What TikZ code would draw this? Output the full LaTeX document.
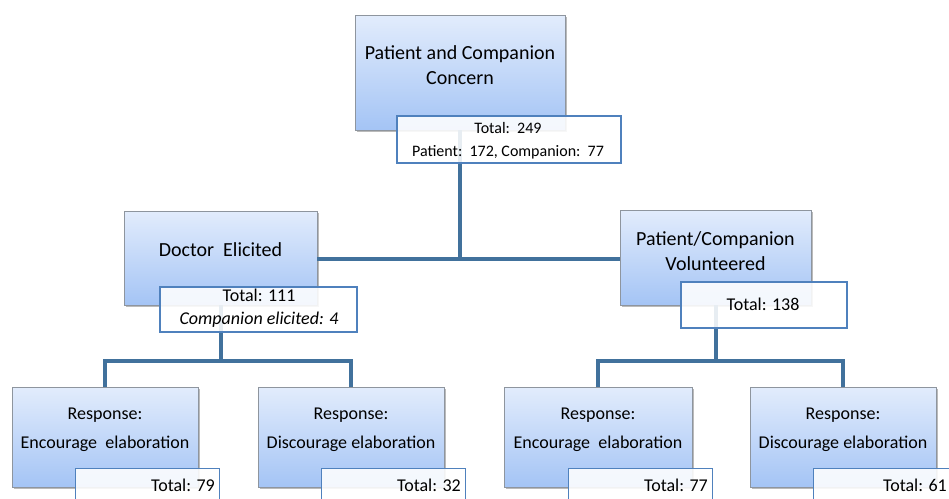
\documentclass[tikz,border=0pt]{standalone}
\usepackage{fontspec}
\setmainfont{Carlito}
\usetikzlibrary{shadows}
\definecolor{linec}{HTML}{41719C}
\definecolor{boxtop}{HTML}{E2ECFC}
\definecolor{boxbot}{HTML}{A4C4F5}
\definecolor{boxedge}{HTML}{8E959E}
\definecolor{lbledge}{HTML}{4F81BD}
\tikzset{
  box/.style={draw=boxedge, line width=0.8pt, top color=boxtop, bottom color=boxbot,
    drop shadow={shadow xshift=1.5pt, shadow yshift=-1.5pt, opacity=0.45, fill=black!60},
    inner sep=0pt},
  lbl/.style={draw=lbledge, line width=1.3pt, fill=white, fill opacity=0.88, text opacity=1, inner sep=0pt},
  conn/.style={draw=linec, line width=4pt},
  big/.style={font=\fontsize{20}{25}\selectfont, align=center, inner sep=0pt},
  mid/.style={font=\fontsize{18}{29}\selectfont, align=center, inner sep=0pt},
  small/.style={font=\fontsize{16}{23}\selectfont, align=center, inner sep=0pt},
  smallb/.style={font=\fontsize{18}{23}\selectfont, align=center, inner sep=0pt},
}
\begin{document}
\begin{tikzpicture}[x=1pt, y=-1pt]
\useasboundingbox (0,0) rectangle (949,498);
\clip (0,0) rectangle (949,498);
% boxes
\node[box, minimum width=210pt, minimum height=115pt] (top) at (460,72.5) {};
\node[box, minimum width=193pt, minimum height=94pt] (doc) at (220.5,258) {};
\node[box, minimum width=191pt, minimum height=95pt] (pcv) at (715.5,257.5) {};
\node[box, minimum width=186pt, minimum height=100pt] (b1) at (105,437) {};
\node[box, minimum width=186pt, minimum height=100pt] (b2) at (351,437) {};
\node[box, minimum width=188pt, minimum height=100pt] (b3) at (598,437) {};
\node[box, minimum width=186pt, minimum height=100pt] (b4) at (843,437) {};
% connectors
\coordinate (j1) at (460,259);
\coordinate (j2) at (220.5,361);
\coordinate (j3) at (715.5,361);
\draw[conn] (top.south) -- (j1);
\draw[conn] (doc.east |- j1) -- (pcv.west |- j1);
\draw[conn] (doc.south) -- (j2);
\draw[conn] (b1.north) -- (b1.north |- j2) -- (b2.north |- j2) -- (b2.north);
\draw[conn] (pcv.south) -- (j3);
\draw[conn] (b3.north) -- (b3.north |- j3) -- (b4.north |- j3) -- (b4.north);
% box texts
\node[big] (ttop) at (460,65) {Patient and Companion\\Concern};
\node[big] (tdoc) at (220.5,250) {Doctor\ \ Elicited};
\node[big] (tpcv) at (715.5,251) {Patient/Companion\\Volunteered};
\node[mid] (tb1) at (105,429.5) {Response:\\Encourage\ \ elaboration};
\node[mid] (tb2) at (351,429.5) {Response:\\Discourage elaboration};
\node[mid] (tb3) at (598,429.5) {Response:\\Encourage\ \ elaboration};
\node[mid] (tb4) at (843,429.5) {Response:\\Discourage elaboration};
% label boxes
\node[lbl, minimum width=224pt, minimum height=47pt] (ltop) at (509,139.5) {};
\node[lbl, minimum width=197pt, minimum height=45pt] (ldoc) at (258.5,309.5) {};
\node[lbl, minimum width=166pt, minimum height=46pt] (lpcv) at (764,305) {};
\node[lbl, minimum width=144pt, minimum height=47pt, anchor=north west] (l1) at (75,468) {};
\node[lbl, minimum width=144pt, minimum height=47pt, anchor=north west] (l2) at (321,468) {};
\node[lbl, minimum width=144pt, minimum height=47pt, anchor=north west] (l3) at (568,468) {};
\node[lbl, minimum width=144pt, minimum height=47pt, anchor=north west] (l4) at (813,468) {};
% label texts
\node[small] (tltop) at (508,140.5) {Total:\ \ 249\\Patient:\ \ 172, Companion:\ \ 77};
\node[smallb] (tldoc) at (259,308.5) {Total: 111\\\itshape Companion elicited: 4};
\node[smallb] (tlpcv) at (763,304) {Total: 138};
\node[smallb, anchor=east] (tl1) at (215,485) {Total: 79};
\node[smallb, anchor=east] (tl2) at (461,485) {Total: 32};
\node[smallb, anchor=east] (tl3) at (708,485) {Total: 77};
\node[smallb, anchor=east] (tl4) at (947,485) {Total: 61};
\end{tikzpicture}
\end{document}
